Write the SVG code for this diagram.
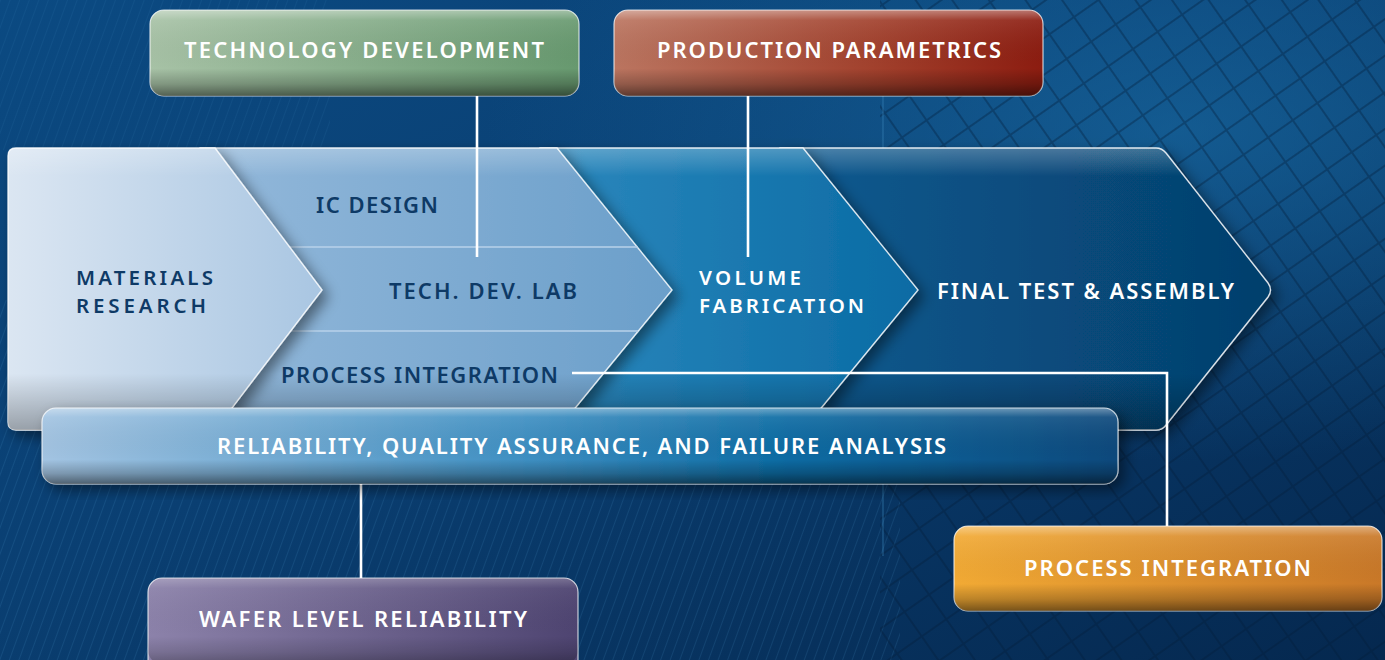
<svg xmlns="http://www.w3.org/2000/svg" width="1385" height="660" viewBox="0 0 1385 660">
<style>
.lbl{font-family:"Noto Sans","Lato","Liberation Sans",sans-serif;font-size:22px;font-weight:600;}
.two{font-size:20.5px;}
.w{fill:#ffffff;}
.n{fill:#0e3a66;}
.box{stroke:rgba(255,255,255,0.75);stroke-width:1.2;}
.gloss{fill:url(#gloss);}
.conn{stroke:#ffffff;stroke-width:2.6;fill:none;}
.chev{stroke:rgba(255,255,255,0.85);stroke-width:1.3;}
.div{stroke:#b9d2ea;stroke-width:1.3;}
</style>
<defs>
<linearGradient id="bg" x1="0" y1="0" x2="1" y2="1">
<stop offset="0" stop-color="#0b4a82"/>
<stop offset="0.45" stop-color="#0a3f72"/>
<stop offset="1" stop-color="#05284f"/>
</linearGradient>
<radialGradient id="bgGlow" cx="0.85" cy="0.2" r="0.5">
<stop offset="0" stop-color="#1a6fa8" stop-opacity="0.6"/>
<stop offset="1" stop-color="#1a6fa8" stop-opacity="0"/>
</radialGradient>
<pattern id="stripes" width="9" height="9" patternUnits="userSpaceOnUse" patternTransform="rotate(20)">
<rect width="9" height="9" fill="none"/>
<line x1="0" y1="0" x2="0" y2="9" stroke="#4d9ad0" stroke-width="1.5" stroke-opacity="0.2"/>
</pattern>
<pattern id="grid" width="30" height="30" patternUnits="userSpaceOnUse" patternTransform="rotate(-35)">
<rect width="30" height="30" fill="none" stroke="#021c3a" stroke-width="2" stroke-opacity="0.35"/>
</pattern>
<linearGradient id="gloss" x1="0" y1="0" x2="0" y2="1">
<stop offset="0" stop-color="#ffffff" stop-opacity="0.4"/>
<stop offset="0.12" stop-color="#ffffff" stop-opacity="0.08"/>
<stop offset="0.68" stop-color="#000000" stop-opacity="0"/>
<stop offset="0.86" stop-color="#000000" stop-opacity="0.22"/>
<stop offset="1" stop-color="#000000" stop-opacity="0.5"/>
</linearGradient>
<linearGradient id="gGreen" x1="0" y1="0" x2="1" y2="0">
<stop offset="0" stop-color="#a7c2a6"/>
<stop offset="1" stop-color="#67996f"/>
</linearGradient>
<linearGradient id="gRed" x1="0" y1="0" x2="1" y2="0">
<stop offset="0" stop-color="#bb7560"/>
<stop offset="0.6" stop-color="#a2412d"/>
<stop offset="1" stop-color="#8c1c10"/>
</linearGradient>
<linearGradient id="gRel" x1="0" y1="0" x2="1" y2="0">
<stop offset="0" stop-color="#a3c4e2"/>
<stop offset="0.45" stop-color="#3e8fc2"/>
<stop offset="0.7" stop-color="#0b6aa2"/>
<stop offset="1" stop-color="#08497c"/>
</linearGradient>
<linearGradient id="gPurple" x1="0" y1="0" x2="1" y2="0">
<stop offset="0" stop-color="#8c82aa"/>
<stop offset="1" stop-color="#4e4471"/>
</linearGradient>
<linearGradient id="gOrange" x1="0" y1="0" x2="1" y2="0">
<stop offset="0" stop-color="#f2aa34"/>
<stop offset="1" stop-color="#c97828"/>
</linearGradient>
<linearGradient id="gMat" x1="0" y1="0" x2="1" y2="0">
<stop offset="0" stop-color="#dbe6f2"/>
<stop offset="1" stop-color="#a9c6e2"/>
</linearGradient>
<linearGradient id="gIC" x1="0" y1="0" x2="1" y2="0">
<stop offset="0" stop-color="#93b8da"/>
<stop offset="1" stop-color="#6b9fca"/>
</linearGradient>
<linearGradient id="gVol" x1="0" y1="0" x2="1" y2="0">
<stop offset="0" stop-color="#2c88bd"/>
<stop offset="1" stop-color="#0a6ba4"/>
</linearGradient>
<linearGradient id="gFin" x1="0" y1="0" x2="1" y2="0">
<stop offset="0" stop-color="#0a5a90"/>
<stop offset="1" stop-color="#053f6c"/>
</linearGradient>
<linearGradient id="chevShade" x1="0" y1="0" x2="0" y2="1">
<stop offset="0" stop-color="#ffffff" stop-opacity="0.25"/>
<stop offset="0.1" stop-color="#ffffff" stop-opacity="0"/>
<stop offset="0.8" stop-color="#000000" stop-opacity="0"/>
<stop offset="1" stop-color="#000000" stop-opacity="0.3"/>
</linearGradient>
<filter id="sh" x="-10%" y="-10%" width="130%" height="130%">
<feDropShadow dx="6" dy="6" stdDeviation="7" flood-color="#000000" flood-opacity="0.45"/>
</filter>
</defs>

<g id="background">
<rect width="1385" height="660" fill="url(#bg)"/>
<rect width="1385" height="660" fill="url(#bgGlow)"/>
<rect x="0" y="300" width="900" height="360" fill="url(#stripes)"/>
<rect x="0" y="0" width="330" height="150" fill="url(#stripes)" opacity="0.6"/>
<rect x="880" y="0" width="505" height="660" fill="url(#grid)"/>
<line x1="883" y1="96" x2="883" y2="556" stroke="#3d8ac0" stroke-width="1" stroke-opacity="0.6"/>
</g>

<g id="chevron-final">
<path d="M780 148 L1156 148 Q1162 148 1166 153 L1268 283 Q1273 290 1268 297 L1166 425 Q1162 430 1156 430 L780 430 Z" fill="url(#gFin)" class="chev" filter="url(#sh)"/>
<path d="M780 148 L1156 148 Q1162 148 1166 153 L1268 283 Q1273 290 1268 297 L1166 425 Q1162 430 1156 430 L780 430 Z" fill="url(#chevShade)"/>
<text class="lbl w" x="937" y="299" textLength="297" lengthAdjust="spacing">FINAL TEST &amp; ASSEMBLY</text>
</g>

<g id="chevron-volume">
<path d="M540 148 L803 148 L918 290 L803 430 L540 430 Z" fill="url(#gVol)" class="chev" filter="url(#sh)"/>
<path d="M540 148 L803 148 L918 290 L803 430 L540 430 Z" fill="url(#chevShade)"/>
<text class="lbl two w"><tspan x="699" y="285" textLength="102" lengthAdjust="spacing">VOLUME</tspan><tspan x="699" y="313" textLength="165" lengthAdjust="spacing">FABRICATION</tspan></text>
</g>

<g id="chevron-ic">
<path d="M200 148 L557 148 L672 290 L557 430 L200 430 Z" fill="url(#gIC)" class="chev" filter="url(#sh)"/>
<path d="M200 148 L557 148 L672 290 L557 430 L200 430 Z" fill="url(#chevShade)"/>
<line class="div" x1="280" y1="247" x2="638" y2="247"/>
<line class="div" x1="280" y1="331" x2="638" y2="331"/>
<text class="lbl n" x="316" y="213" textLength="122" lengthAdjust="spacing">IC DESIGN</text>
<text class="lbl n" x="389" y="299" textLength="188" lengthAdjust="spacing">TECH. DEV. LAB</text>
<text class="lbl n" x="281" y="383" textLength="277" lengthAdjust="spacing">PROCESS INTEGRATION</text>
</g>

<g id="chevron-materials">
<path d="M8 156 Q8 148 16 148 L215 148 L322 290 L215 430 L16 430 Q8 430 8 422 Z" fill="url(#gMat)" class="chev" filter="url(#sh)"/>
<path d="M8 156 Q8 148 16 148 L215 148 L322 290 L215 430 L16 430 Q8 430 8 422 Z" fill="url(#chevShade)"/>
<text class="lbl two n"><tspan x="76" y="285" textLength="137" lengthAdjust="spacing">MATERIALS</tspan><tspan x="76" y="313" textLength="130" lengthAdjust="spacing">RESEARCH</tspan></text>
</g>

<g id="connectors">
<line class="conn" x1="477" y1="96" x2="477" y2="257"/>
<line class="conn" x1="748" y1="96" x2="748" y2="257"/>
<polyline class="conn" points="572,373 1167,373 1167,527"/>
<line class="conn" x1="361" y1="484" x2="361" y2="579"/>
</g>

<g id="node-reliability">
<rect x="42" y="408" width="1076" height="76" rx="14" fill="url(#gRel)" class="box" filter="url(#sh)"/>
<rect x="42" y="408" width="1076" height="76" rx="14" class="gloss"/>
<text class="lbl w" x="217" y="454" textLength="729" lengthAdjust="spacing">RELIABILITY, QUALITY ASSURANCE, AND FAILURE ANALYSIS</text>
</g>

<g id="node-technology-development">
<rect x="150" y="10" width="429" height="86" rx="14" fill="url(#gGreen)" class="box"/>
<rect x="150" y="10" width="429" height="86" rx="14" class="gloss"/>
<text class="lbl w" x="184" y="58" textLength="360" lengthAdjust="spacing">TECHNOLOGY DEVELOPMENT</text>
</g>

<g id="node-production-parametrics">
<rect x="614" y="10" width="429" height="86" rx="14" fill="url(#gRed)" class="box"/>
<rect x="614" y="10" width="429" height="86" rx="14" class="gloss"/>
<text class="lbl w" x="657" y="58" textLength="344" lengthAdjust="spacing">PRODUCTION PARAMETRICS</text>
</g>

<g id="node-wafer-level-reliability">
<rect x="148" y="578" width="430" height="100" rx="14" fill="url(#gPurple)" class="box"/>
<rect x="148" y="578" width="430" height="86" rx="14" class="gloss" opacity="0.6"/>
<text class="lbl w" x="199" y="627" textLength="328" lengthAdjust="spacing">WAFER LEVEL RELIABILITY</text>
</g>

<g id="node-process-integration">
<rect x="954" y="526" width="428" height="85" rx="14" fill="url(#gOrange)" class="box"/>
<rect x="954" y="526" width="428" height="85" rx="14" class="gloss"/>
<text class="lbl w" x="1024" y="576" textLength="287" lengthAdjust="spacing">PROCESS INTEGRATION</text>
</g>
</svg>
